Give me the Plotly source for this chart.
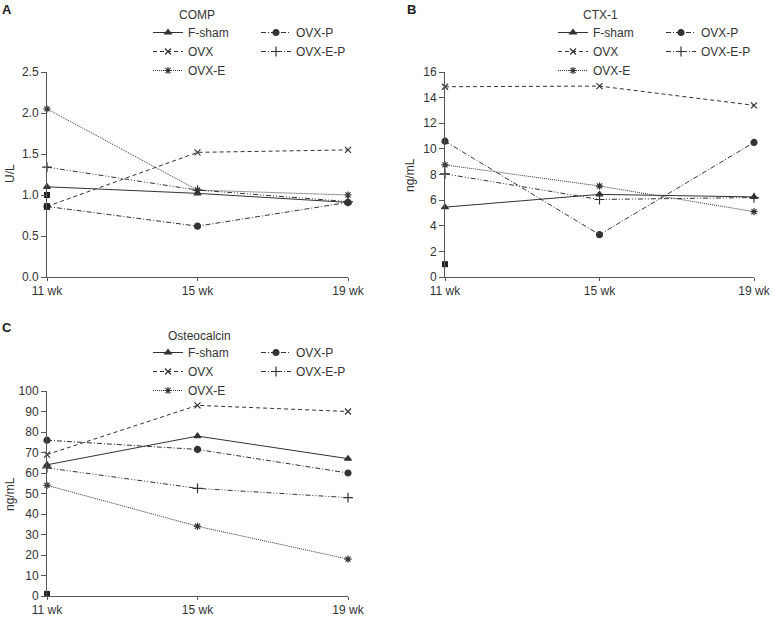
import plotly.graph_objects as go

W, H = 774, 619

weeks = ["11 wk", "15 wk", "19 wk"]

# Panel A - COMP (U/L)
comp_fsham = [1.10, 1.02, 0.91]
comp_ovx = [0.86, 1.52, 1.55]
comp_ovx_e = [2.05, 1.06, 1.00]
comp_ovx_p = [0.86, 0.62, 0.91]
comp_ovx_e_p = [1.34, 1.06, 0.92]
comp_extra = [1.00, 0.86]

# Panel B - CTX-1 (ng/mL)
ctx_fsham = [5.45, 6.45, 6.25]
ctx_ovx = [14.85, 14.9, 13.4]
ctx_ovx_e = [8.75, 7.1, 5.1]
ctx_ovx_p = [10.6, 3.3, 10.5]
ctx_ovx_e_p = [8.05, 6.05, 6.2]
ctx_extra = [1.0]

# Panel C - Osteocalcin (ng/mL)
oc_fsham = [64, 78, 67]
oc_ovx = [69, 93, 90]
oc_ovx_e = [54, 34, 18]
oc_ovx_p = [76, 71.5, 60]
oc_ovx_e_p = [62.5, 52.5, 48]
oc_extra = [1]

INK = "#333333"
FONT = "Liberation Sans, Arial, sans-serif"

# group name -> (dash, marker symbol, marker size, legend column)
styles = {
    "F-sham": ("solid", "triangle-up", 6, 0),
    "OVX": ("4px,3px", "x-thin-open", 6, 0),
    "OVX-E": ("1px,1px", "asterisk-open", 6, 0),
    "OVX-P": ("5px,2px,1px,2px", "circle", 6, 1),
    "OVX-E-P": ("5px,2px,1px,2px,1px,2px", "cross-thin-open", 7, 1),
}

panels = [
    {
        "series": {
            "F-sham": comp_fsham, "OVX": comp_ovx, "OVX-E": comp_ovx_e,
            "OVX-P": comp_ovx_p, "OVX-E-P": comp_ovx_e_p,
        },
        "extra": comp_extra, "title": "COMP", "ytitle": "U/L",
        "range": [0, 2.5], "dtick": 0.5, "fmt": ".1f",
        "box": (47, 348, 72, 277), "legx": (148, 256), "legy": 18,
        "titlexy": (197, 15), "letter": ("A", 7, 9), "ytitlexy": (10, 174),
    },
    {
        "series": {
            "F-sham": ctx_fsham, "OVX": ctx_ovx, "OVX-E": ctx_ovx_e,
            "OVX-P": ctx_ovx_p, "OVX-E-P": ctx_ovx_e_p,
        },
        "extra": ctx_extra, "title": "CTX-1", "ytitle": "ng/mL",
        "range": [0, 16], "dtick": 2, "fmt": "d",
        "box": (445, 754, 72, 277), "legx": (553, 661), "legy": 18,
        "titlexy": (600, 15), "letter": ("B", 411, 9), "ytitlexy": (410, 175),
    },
    {
        "series": {
            "F-sham": oc_fsham, "OVX": oc_ovx, "OVX-E": oc_ovx_e,
            "OVX-P": oc_ovx_p, "OVX-E-P": oc_ovx_e_p,
        },
        "extra": oc_extra, "title": "Osteocalcin", "ytitle": "ng/mL",
        "range": [0, 100], "dtick": 10, "fmt": "d",
        "box": (47, 348, 391, 596), "legx": (148, 256), "legy": 338,
        "titlexy": (199, 336), "letter": ("C", 7, 327), "ytitlexy": (10, 494),
    },
]

fig = go.Figure()
annotations = []
layout = {}

for i, p in enumerate(panels):
    n = "" if i == 0 else str(i + 1)
    xa, ya = "x" + n, "y" + n
    leg_left = "legend" if i == 0 else f"legend{2 * i + 1}"
    leg_right = f"legend{2 * i + 2}"

    for name, vals in p["series"].items():
        dash, sym, size, col = styles[name]
        fig.add_trace(
            go.Scatter(
                x=weeks,
                y=vals,
                name=name,
                mode="lines+markers",
                line={"color": INK, "width": 1, "dash": dash},
                marker={
                    "symbol": sym,
                    "size": size,
                    "color": INK,
                    "line": {"color": INK, "width": 1.2},
                },
                cliponaxis=False,
                xaxis=xa,
                yaxis=ya,
                legend=leg_left if col == 0 else leg_right,
            )
        )

    # stray square marker at baseline week
    fig.add_trace(
        go.Scatter(
            x=[weeks[0]] * len(p["extra"]),
            y=p["extra"],
            mode="markers",
            marker={"symbol": "square", "size": 6, "color": "#222222"},
            cliponaxis=False,
            showlegend=False,
            xaxis=xa,
            yaxis=ya,
        )
    )

    x0, x1, y0, y1 = p["box"]
    layout["xaxis" + n] = {
        "domain": [x0 / W, x1 / W],
        "anchor": ya,
        "type": "category",
        "range": [0, 2],
        "automargin": False,
        "showline": True,
        "linecolor": "#555555",
        "ticks": "outside",
        "ticklen": 3,
        "tickcolor": "#555555",
        "showgrid": False,
        "zeroline": False,
        "tickfont": {"size": 12, "color": INK, "family": FONT},
    }
    layout["yaxis" + n] = {
        "domain": [1 - y1 / H, 1 - y0 / H],
        "anchor": xa,
        "range": p["range"],
        "dtick": p["dtick"],
        "tickformat": p["fmt"],
        "automargin": False,
        "showline": True,
        "linecolor": "#555555",
        "ticks": "outside",
        "ticklen": 5,
        "tickcolor": "#555555",
        "showgrid": False,
        "zeroline": False,
        "tickfont": {"size": 12, "color": INK, "family": FONT},
    }
    for key, lx in ((leg_left, p["legx"][0]), (leg_right, p["legx"][1])):
        layout[key] = {
            "x": lx / W,
            "y": 1 - p["legy"] / H,
            "xanchor": "left",
            "yanchor": "top",
            "bgcolor": "rgba(0,0,0,0)",
            "font": {"size": 12, "color": INK, "family": FONT},
            "itemwidth": 30,
            "tracegroupgap": 0,
        }

    tx, ty = p["titlexy"]
    annotations.append(
        {"text": p["title"], "x": tx / W, "y": 1 - ty / H, "xref": "paper", "yref": "paper",
         "xanchor": "center", "yanchor": "middle", "showarrow": False,
         "font": {"size": 12, "color": INK, "family": FONT}}
    )
    letter, lx, ly = p["letter"]
    annotations.append(
        {"text": f"<b>{letter}</b>", "x": lx / W, "y": 1 - ly / H, "xref": "paper", "yref": "paper",
         "xanchor": "center", "yanchor": "middle", "showarrow": False,
         "font": {"size": 13, "color": "#222222", "family": FONT}}
    )
    yx, yy = p["ytitlexy"]
    annotations.append(
        {"text": p["ytitle"], "x": yx / W, "y": 1 - yy / H, "xref": "paper", "yref": "paper",
         "xanchor": "center", "yanchor": "middle", "showarrow": False, "textangle": -90,
         "font": {"size": 12, "color": INK, "family": FONT}}
    )

fig.update_layout(
    width=W,
    height=H,
    margin={"l": 0, "r": 0, "t": 0, "b": 0},
    paper_bgcolor="white",
    plot_bgcolor="white",
    showlegend=True,
    annotations=annotations,
    **layout,
)

# drop the browser's default page margin so the figure sits at the window origin
fig.write_html(
    "out.html",
    config={"displayModeBar": False},
    post_script="document.body.style.margin = '0';",
)
